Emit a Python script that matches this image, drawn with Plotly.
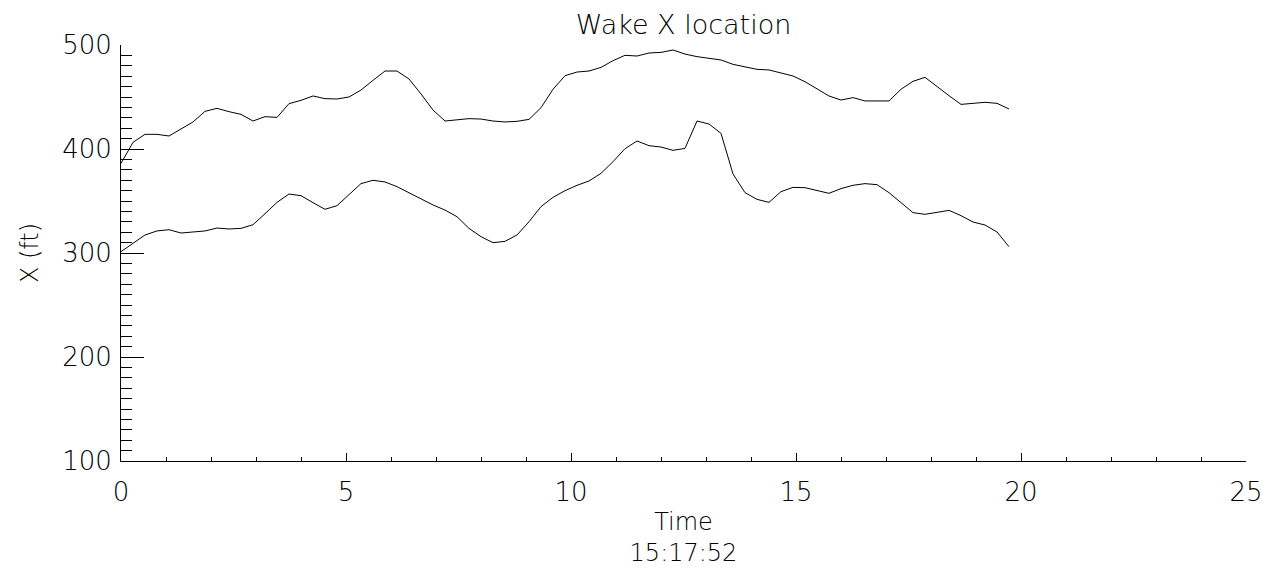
import plotly.graph_objects as go

# Time (minutes), one sample every 16 s
time_min = [0.0, 0.267, 0.533, 0.8, 1.067, 1.333, 1.6, 1.867, 2.133, 2.4,
            2.667, 2.933, 3.2, 3.467, 3.733, 4.0, 4.267, 4.533, 4.8, 5.067,
            5.333, 5.6, 5.867, 6.133, 6.4, 6.667, 6.933, 7.2, 7.467, 7.733,
            8.0, 8.267, 8.533, 8.8, 9.067, 9.333, 9.6, 9.867, 10.133, 10.4,
            10.667, 10.933, 11.2, 11.467, 11.733, 12.0, 12.267, 12.533, 12.8, 13.067,
            13.333, 13.6, 13.867, 14.133, 14.4, 14.667, 14.933, 15.2, 15.467, 15.733,
            16.0, 16.267, 16.533, 16.8, 17.067, 17.333, 17.6, 17.867, 18.133, 18.4,
            18.667, 18.933, 19.2, 19.467, 19.733]

wake_upper = [386.2, 406.4, 414.1, 414.1, 412.5, 419.6, 426.0, 436.2, 439.1, 435.9,
              433.3, 426.9, 431.1, 430.4, 443.6, 446.8, 451.0, 448.4, 448.1, 450.0,
              456.7, 466.0, 475.0, 475.0, 467.3, 452.9, 437.5, 426.9, 427.9, 429.2,
              428.8, 426.9, 426.0, 426.6, 428.5, 439.7, 457.4, 470.5, 474.0, 475.0,
              478.5, 484.9, 490.1, 489.4, 492.3, 492.9, 495.2, 491.3, 488.8, 486.9,
              485.6, 481.4, 479.2, 476.6, 476.0, 473.4, 470.2, 464.7, 458.0, 451.0,
              447.1, 449.4, 446.2, 446.2, 446.2, 457.4, 465.1, 468.9, 459.9, 451.3,
              442.9, 444.2, 444.9, 443.9, 438.5]

wake_lower = [301.3, 309.3, 317.3, 321.2, 322.4, 319.2, 319.9, 321.2, 324.0, 323.1,
              323.7, 327.2, 337.8, 348.7, 356.7, 355.1, 348.4, 342.0, 345.5, 355.8,
              366.7, 369.9, 368.3, 363.8, 358.0, 351.6, 346.2, 341.3, 334.9, 323.7,
              315.7, 309.9, 311.2, 317.3, 330.1, 344.6, 353.5, 359.9, 365.1, 369.2,
              376.6, 387.8, 400.3, 407.7, 403.2, 401.9, 398.7, 400.6, 426.9, 424.0,
              415.1, 376.0, 358.0, 351.6, 348.7, 359.0, 363.1, 362.8, 359.9, 357.4,
              361.9, 365.1, 366.7, 365.7, 358.0, 348.4, 338.8, 337.2, 339.1, 341.0,
              335.9, 329.8, 326.9, 320.2, 306.1]

x_ticks = [0, 5, 10, 15, 20, 25]
y_ticks = [100, 200, 300, 400, 500]

FONT = "DejaVu Sans"
INK = "#000000"

fig = go.Figure()
for series in (wake_upper, wake_lower):
    fig.add_trace(go.Scatter(x=time_min, y=series, mode="lines",
                             line=dict(color=INK, width=1), showlegend=False,
                             hoverinfo="skip"))

# page body has an 8 px margin, so the figure is 8 px smaller and shifted
fig.update_layout(
    width=1268, height=568,
    margin=dict(l=113, r=30, t=37, b=115, autoexpand=False),
    paper_bgcolor="white", plot_bgcolor="white",
    font=dict(family=FONT, color=INK, weight=200),
    title=dict(text="Wake X location", x=0.5, xref="paper", xanchor="center",
               y=1 - 17 / 568, yref="container", yanchor="middle", automargin=False,
               font=dict(family=FONT, size=27, color=INK, weight=200)),
    xaxis=dict(range=[0, 25], tickvals=x_ticks, ticktext=[str(v) for v in x_ticks],
               ticks="inside", ticklen=8, tickwidth=1, tickcolor=INK,
               minor=dict(dtick=1, ticks="inside", ticklen=4, tickwidth=1, tickcolor=INK),
               showline=True, linecolor=INK, linewidth=1, mirror=False,
               showgrid=False, zeroline=False, ticklabelstandoff=8, automargin=False,
               tickfont=dict(family=FONT, size=26, color=INK, weight=200),
               title=dict(text="Time<br>15:17:52", standoff=6,
                          font=dict(family=FONT, size=24, color=INK, weight=200))),
    yaxis=dict(range=[100, 500], tickvals=y_ticks, ticktext=[str(v) for v in y_ticks],
               ticks="inside", ticklen=23, tickwidth=1, tickcolor=INK,
               minor=dict(dtick=10, ticks="inside", ticklen=11, tickwidth=1, tickcolor=INK),
               showline=True, linecolor=INK, linewidth=1, mirror=False,
               showgrid=False, zeroline=False, ticklabelstandoff=3, automargin=False,
               tickfont=dict(family=FONT, size=26, color=INK, weight=200),
               title=dict(text="X (ft)", standoff=16,
                          font=dict(family=FONT, size=24, color=INK, weight=200))),
)

fig.write_html("out.html")
